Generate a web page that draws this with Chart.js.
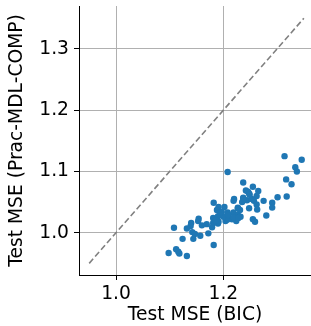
<!DOCTYPE html>
<html>
<head>
<meta charset="utf-8">
<script src="https://cdn.jsdelivr.net/npm/chart.js@4/dist/chart.umd.min.js"></script>
<style>
  html, body { margin: 0; padding: 0; background: #fff; }
  #wrap { width: 311px; height: 326px; position: relative; }
</style>
</head>
<body>
<div id="wrap"><canvas id="chart"></canvas></div>
<script>
// --- data ---
const bicMSE = [
    1.314, 1.346, 1.334, 1.337, 1.208, 1.317, 1.327, 1.237, 1.255, 1.242,
    1.265, 1.248, 1.262, 1.301, 1.318, 1.220, 1.219, 1.237, 1.235, 1.244,
    1.253, 1.257, 1.275, 1.291, 1.291, 1.262, 1.263, 1.248, 1.227, 1.182,
    1.191, 1.202, 1.188, 1.197, 1.208, 1.219, 1.227, 1.232, 1.224, 1.216,
    1.224, 1.204, 1.207, 1.280, 1.255, 1.259, 1.181, 1.188, 1.191, 1.185,
    1.190, 1.181, 1.179, 1.169, 1.160, 1.154, 1.153, 1.140, 1.139, 1.132,
    1.108, 1.142, 1.147, 1.172, 1.157, 1.124, 1.144, 1.182, 1.112, 1.116,
    1.118, 1.098, 1.132, 1.190, 1.200, 1.227, 1.231, 1.237, 1.209, 1.219,
    1.228, 1.194, 1.186, 1.246, 1.249
];
const mdlMSE = [
    1.125, 1.119, 1.107, 1.100, 1.099, 1.087, 1.079, 1.082, 1.075, 1.069,
    1.068, 1.064, 1.060, 1.058, 1.059, 1.055, 1.052, 1.057, 1.050, 1.053,
    1.055, 1.052, 1.052, 1.049, 1.041, 1.046, 1.038, 1.040, 1.041, 1.049,
    1.042, 1.042, 1.037, 1.034, 1.033, 1.033, 1.029, 1.026, 1.024, 1.022,
    1.019, 1.019, 1.021, 1.028, 1.022, 1.018, 1.024, 1.022, 1.018, 1.018,
    1.015, 1.016, 1.009, 1.014, 1.012, 1.023, 1.019, 1.016, 1.011, 1.007,
    1.008, 1.001, 0.998, 0.999, 0.995, 0.990, 0.990, 0.980, 0.973, 0.969,
    0.966, 0.967, 0.962, 1.027, 1.026, 1.040, 1.037, 1.056, 1.029, 1.025,
    1.024, 1.033, 1.020, 1.067, 1.062
];
const diagLine = [0.95, 1.35];
const xTicks = [1.0, 1.2];
const yTicks = [1.0, 1.1, 1.2, 1.3];

const FONT = { family: 'DejaVu Sans', size: 18.7 };

const points = bicMSE.map((x, i) => ({ x: x, y: mdlMSE[i] }));
const diag = diagLine.map(v => ({ x: v, y: v }));

// drop the label overflow padding Chart.js reserves around the axes
function noPad(s) {
    s.paddingTop = 0; s.paddingBottom = 0; s.paddingLeft = 0; s.paddingRight = 0;
}

new Chart(document.getElementById('chart'), {
    type: 'scatter',
    data: {
        datasets: [
            {
                data: points,
                backgroundColor: '#1f77b4',
                borderWidth: 0,
                pointRadius: 3.2,
                order: 1
            },
            {
                type: 'line',
                data: diag,
                borderColor: '#808080',
                borderWidth: 1.6,
                borderDash: [6, 3],
                pointRadius: 0,
                fill: false,
                order: 2
            }
        ]
    },
    options: {
        responsive: true,
        maintainAspectRatio: false,
        animation: false,
        layout: { autoPadding: false, padding: { top: 6, right: 0, left: 0, bottom: 0 } },
        plugins: { legend: { display: false }, tooltip: { enabled: false } },
        scales: {
            x: {
                type: 'linear',
                min: 0.931,
                max: 1.3633,
                afterBuildTicks: s => { s.ticks = xTicks.map(v => ({ value: v })); },
                afterFit: s => { s.height = 51; noPad(s); },
                grid: { color: '#b0b0b0', lineWidth: 1, tickColor: '#000', tickLength: 5 },
                border: { color: '#000', width: 1 },
                ticks: { color: '#000', font: FONT, padding: 3, maxRotation: 0,
                         callback: v => v.toFixed(1) },
                title: { display: true, text: 'Test MSE (BIC)', color: '#000', font: FONT,
                         padding: { top: 0, bottom: 0 } }
            },
            y: {
                type: 'linear',
                min: 0.931,
                max: 1.37,
                afterBuildTicks: s => { s.ticks = yTicks.map(v => ({ value: v })); },
                afterFit: s => { s.width = 79; noPad(s); },
                grid: { color: '#b0b0b0', lineWidth: 1, tickColor: '#000', tickLength: 5 },
                border: { color: '#000', width: 1 },
                ticks: { color: '#000', font: FONT, padding: 5,
                         callback: v => v.toFixed(1) },
                title: { display: true, text: 'Test MSE (Prac-MDL-COMP)', color: '#000', font: FONT,
                         padding: { top: 6, bottom: 0 } }
            }
        }
    }
});
</script>
</body>
</html>
